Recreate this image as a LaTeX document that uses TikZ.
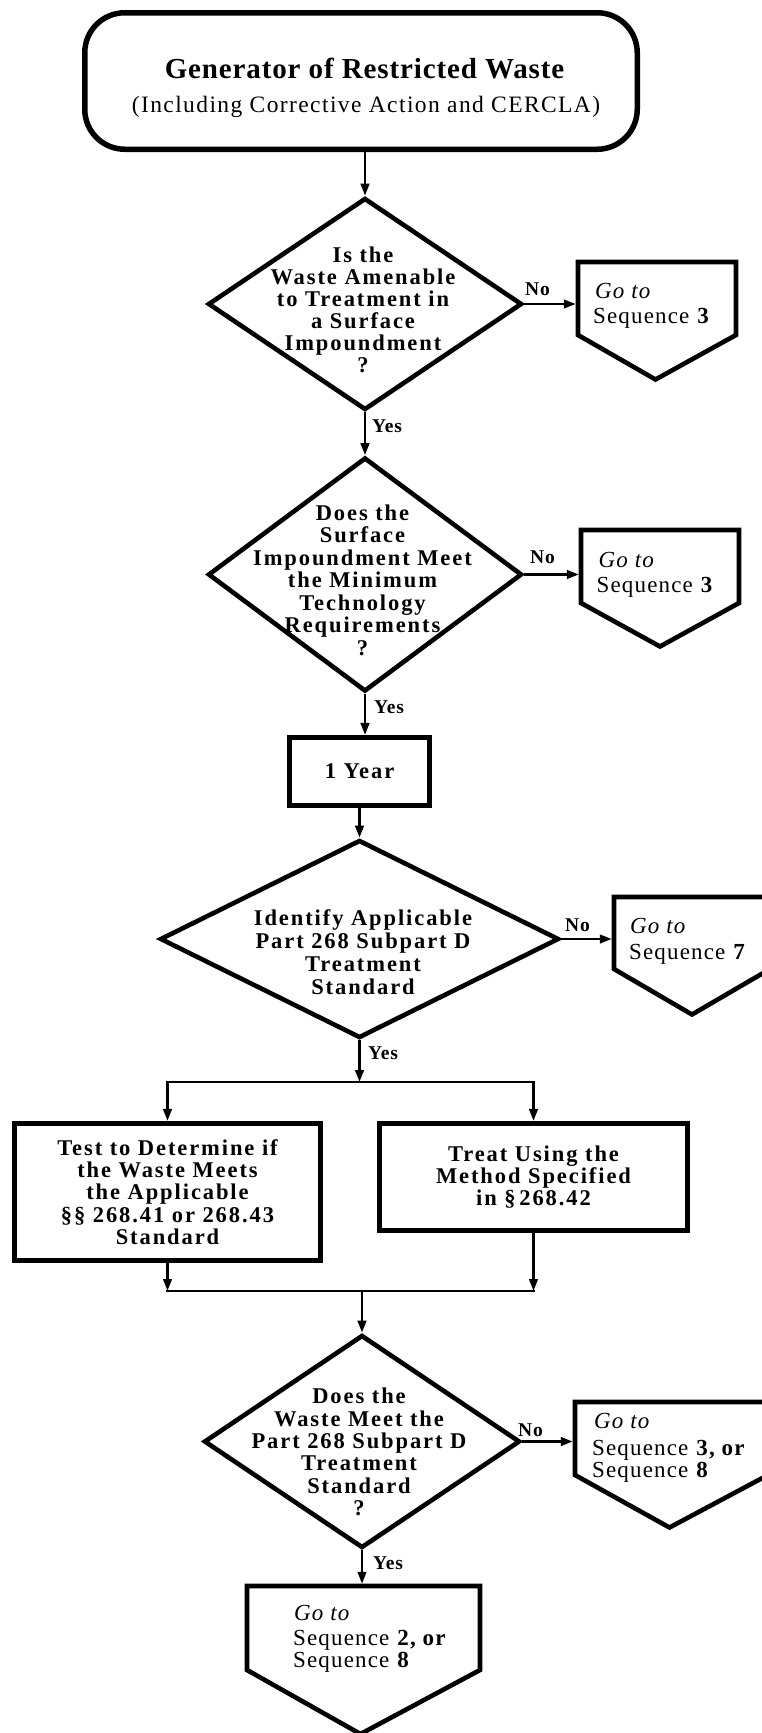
\documentclass[tikz,border=0pt]{standalone}
\usepackage{fontspec}
\setmainfont{Liberation Serif}
\newfontfamily\titlef[LetterSpace=3]{Liberation Serif}
\newfontfamily\subf[LetterSpace=6]{Liberation Serif}
\newfontfamily\bodyf[LetterSpace=8.5]{Liberation Serif}
\newfontfamily\lblf[LetterSpace=4]{Liberation Serif}
\newfontfamily\gof[LetterSpace=5]{Liberation Serif}
\usetikzlibrary{shapes.geometric,arrows.meta,calc}
\begin{document}
\begin{tikzpicture}[x=1pt,y=-1pt,
  shapeline/.style={draw=black, line width=4.6pt},
  terminal/.style={draw=black, line width=5.5pt, rectangle, rounded corners=40pt, minimum width=552.5pt, minimum height=136.5pt, inner sep=0pt},
  decision/.style={shapeline, diamond, inner sep=0pt, line join=miter},
  process/.style={shapeline, rectangle, inner sep=0pt, align=center, font=\bodyf\bfseries\fontsize{22.5}{22.4}\selectfont},
  pentbody/.style={rectangle, inner sep=0pt, outer sep=0pt},
  pentline/.style={draw=black, line width=4.6pt, line join=miter},
  qtext/.style={align=center, inner sep=0pt, font=\bodyf\bfseries\fontsize{22.5}{#1}\selectfont},
  lbl/.style={inner sep=0pt, anchor=base west, font=\lblf\bfseries\fontsize{19.5}{20}\selectfont},
  gotext/.style={inner sep=0pt, anchor=base west, font=\gof\fontsize{23}{25}\selectfont},
  flow/.style={line width=2.6pt, -{Triangle[length=12pt,width=8.5pt]}},
  plain/.style={line width=2.6pt, line cap=rect},
]
\clip (0,0) rectangle (762,1733);
\fill[white] (0,0) rectangle (762,1733);

% ---- start terminal
\node[terminal] (gen) at (361,81) {};
\node[anchor=base, inner sep=0pt, font=\titlef\bfseries\fontsize{29}{34}\selectfont] (genA) at (364.5,78) {Generator of Restricted Waste};
\node[anchor=base, inner sep=0pt, font=\subf\fontsize{23.5}{28}\selectfont] (genB) at (366,112) {(Including Corrective Action and CERCLA)};

% ---- decision 1
\node[decision, minimum width=314pt, minimum height=212pt] (d1) at (365,304) {};
\draw[flow] (d1.north |- gen.south) -- (d1.north);
\node[qtext=22] (t1) at (363,310) {Is the\\Waste Amenable\\to Treatment in\\a Surface\\Impoundment\\?};
\node[pentbody, minimum width=158pt, minimum height=73pt] (p1) at (657,298.5) {};
\draw[pentline] (p1.north west) -- (p1.north east) -- (p1.south east) -- ($(p1.south)+(-1.5,44.5)$) -- (p1.south west) -- cycle;
\node[gotext] (g1a) at (595,298) {\itshape Go to};
\node[gotext] (g1b) at (593,323) {Sequence \textbf{3}};
\draw[flow, shorten >=2.2pt] (d1.east) -- (d1.east -| p1.west);
\node[lbl] (n1) at (525,295) {No};
\node[lbl] (y1) at (372,432) {Yes};

% ---- decision 2
\node[decision, minimum width=314pt, minimum height=234pt] (d2) at (365,574.5) {};
\draw[flow] (d1.south) -- (d2.north);
\node[qtext=22.5] (t2) at (362.5,580) {Does the\\Surface\\Impoundment Meet\\the Minimum\\Technology\\Requirements\\?};
\node[pentbody, minimum width=158pt, minimum height=73pt] (p2) at (660,566.5) {};
\draw[pentline] (p2.north west) -- (p2.north east) -- (p2.south east) -- ($(p2.south)+(0,43.5)$) -- (p2.south west) -- cycle;
\node[gotext] (g2a) at (598.5,567) {\itshape Go to};
\node[gotext] (g2b) at (596.5,592) {Sequence \textbf{3}};
\draw[flow, shorten >=2.2pt] (d2.east) -- (d2.east -| p2.west);
\node[lbl] (n2) at (530,563) {No};
\node[lbl] (y2) at (374,713) {Yes};

% ---- one year
\node[process, minimum width=140.5pt, minimum height=68.5pt] (yr) at (359.5,771.5) {1 Year};
\draw[flow] (d2.south) -- (d2.south |- yr.north);

% ---- decision 3
\node[decision, minimum width=399pt, minimum height=198pt] (d3) at (359.5,939) {};
\node[qtext=23] (t3) at (363,952) {Identify Applicable\\Part 268 Subpart D\\Treatment\\Standard};
\draw[flow] (yr.south) -- (d3.north);
\node[pentbody, minimum width=156pt, minimum height=72pt] (p3) at (692,933) {};
\draw[pentline] (p3.north west) -- (p3.north east) -- (p3.south east) -- ($(p3.south)+(0,45.5)$) -- (p3.south west) -- cycle;
\node[gotext] (g3a) at (630,933) {\itshape Go to};
\node[gotext] (g3b) at (629,959) {Sequence \textbf{7}};
\draw[flow, shorten >=2.2pt] (d3.east) -- (d3.east -| p3.west);
\node[lbl] (n3) at (565,931) {No};
\node[lbl] (y3) at (368,1059) {Yes};

% ---- parallel boxes
\coordinate (split) at (359.5,1082);
\coordinate (merge) at (362,1291);
\draw[flow] (d3.south) -- (split);
\node[process, minimum width=306.5pt, minimum height=137.5pt] (b1) at (167.5,1192) {Test to Determine if\\the Waste Meets\\the Applicable\\§§ 268.41 or 268.43\\Standard};
\node[process, minimum width=308.5pt, minimum height=107.5pt] (b2) at (533.5,1177) {Treat Using the\\Method Specified\\in §\,268.42};
\draw[line width=2.6pt, {Triangle[length=12pt,width=8.5pt]}-{Triangle[length=12pt,width=8.5pt]}] (b1.north) -- (b1.north |- split) -- (b2.north |- split) -- (b2.north);
\draw[flow] (b1.south) -- (b1.south |- merge);
\draw[flow] (b2.south) -- (b2.south |- merge);
\draw[plain] (b1.south |- merge) -- (b2.south |- merge);

% ---- decision 4
\node[decision, minimum width=316pt, minimum height=213pt] (d4) at (362,1441.5) {};
\node[qtext=22.3] (t4) at (359,1452) {Does the\\Waste Meet the\\Part 268 Subpart D\\Treatment\\Standard\\?};
\draw[flow] (merge) -- (d4.north);
\node[pentbody, minimum width=193pt, minimum height=73pt] (p4) at (671.5,1438.5) {};
\draw[pentline] (p4.north west) -- (p4.north east) -- (p4.south east) -- ($(p4.south)+(-2,52.5)$) -- (p4.south west) -- cycle;
\node[gotext] (g4a) at (594,1428) {\itshape Go to};
\node[gotext] (g4b) at (592,1455) {Sequence \textbf{3, or}};
\node[gotext] (g4c) at (592,1477) {Sequence \textbf{8}};
\draw[flow, shorten >=2.2pt] (d4.east) -- (d4.east -| p4.west);
\node[lbl] (n4) at (518,1436) {No};
\node[lbl] (y4) at (373,1569) {Yes};

% ---- final pentagon
\node[pentbody, minimum width=233pt, minimum height=84pt] (p5) at (363.5,1628) {};
\draw[pentline] (p5.north west) -- (p5.north east) -- (p5.south east) -- ($(p5.south)+(-3,64)$) -- (p5.south west) -- cycle;
\node[gotext] (g5a) at (294,1620) {\itshape Go to};
\node[gotext] (g5b) at (293,1645) {Sequence \textbf{2, or}};
\node[gotext] (g5c) at (293,1667) {Sequence \textbf{8}};
\draw[flow, shorten >=2.2pt] (d4.south) -- (d4.south |- p5.north);
\end{tikzpicture}
\end{document}
